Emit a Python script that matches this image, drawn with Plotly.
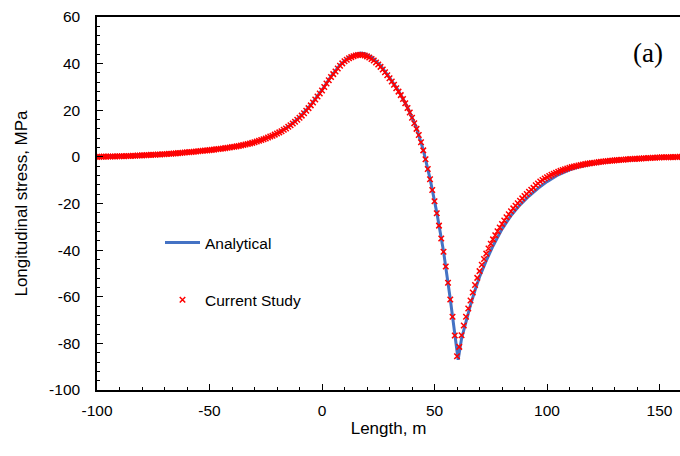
import plotly.graph_objects as go

# Analytical solution
x_analytical = [-100, -90, -80, -70, -60, -50, -40, -30, -25, -20, -15, -10, -5, 0, 4, 8, 12, 15, 17, 19,
                22, 26, 30, 34, 38, 42, 45, 48, 51, 54, 57, 59, 60.5, 62, 64, 66, 68, 70, 73, 76,
                80, 84, 88, 92, 96, 100, 105, 110, 115, 120, 130, 140, 150, 160]
y_analytical = [0, 0.25, 0.65, 1.15, 2.0, 2.9, 4.2, 6.3, 7.9, 10.0, 12.9, 16.9, 22.2, 28.7, 34.5, 39.4, 42.7, 44.0, 44.5, 44.3,
                42.8, 39.2, 34.0, 28.3, 21.3, 12.4, 3.0, -9.3, -23.8, -40.5, -61.0, -76.6, -87.0, -78.0, -70.5, -63.5, -57.2, -51.5, -44.5, -38.2,
                -31.0, -25.2, -20.6, -16.8, -13.5, -10.6, -7.7, -5.6, -4.1, -3.1, -1.8, -1.0, -0.5, -0.2]

# Current study: one value per metre from -100 to 160
x_study = list(range(-100, 161))
y_study = [
    0.0, 0.0, 0.05, 0.1, 0.1, 0.15, 0.15, 0.2, 0.2, 0.25,            # -100..-91
    0.25, 0.3, 0.3, 0.35, 0.4, 0.4, 0.45, 0.5, 0.55, 0.6,             # -90..-81
    0.65, 0.7, 0.75, 0.8, 0.85, 0.9, 0.95, 1.0, 1.05, 1.1,            # -80..-71
    1.15, 1.2, 1.3, 1.35, 1.45, 1.5, 1.6, 1.7, 1.8, 1.9,              # -70..-61
    2.0, 2.05, 2.1, 2.2, 2.3, 2.4, 2.5, 2.6, 2.7, 2.8,                # -60..-51
    2.9, 3.0, 3.1, 3.25, 3.35, 3.5, 3.6, 3.75, 3.9, 4.05,             # -50..-41
    4.2, 4.35, 4.5, 4.7, 4.9, 5.1, 5.3, 5.5, 5.75, 6.0,               # -40..-31
    6.3, 6.6, 6.9, 7.2, 7.55, 7.9, 8.3, 8.7, 9.1, 9.55,               # -30..-21
    10.0, 10.5, 11.0, 11.6, 12.2, 12.9, 13.6, 14.3, 15.1, 15.9,       # -20..-11
    16.8, 17.7, 18.7, 19.8, 20.9, 22.1, 23.3, 24.6, 25.9, 27.2,       # -10..-1
    28.5, 30.0, 31.5, 32.9, 34.3, 35.5, 36.6, 37.9, 39.1, 40.1,       # 0..9
    41.0, 41.7, 42.3, 42.8, 43.2, 43.5, 43.7, 43.8, 43.7, 43.5,       # 10..19
    43.1, 42.6, 42.0, 41.3, 40.5, 39.6, 38.6, 37.5, 36.3, 35.0,       # 20..29
    33.7, 32.3, 30.9, 29.4, 28.0, 26.5, 24.8, 23.0, 21.0, 19.0,       # 30..39
    16.8, 14.4, 12.0, 9.4, 6.3, 2.8, -1.0, -5.2, -9.6, -14.2,         # 40..49
    -19.0, -24.2, -29.5, -35.0, -40.7, -47.0, -54.0, -61.2, -68.6, -76.6,  # 50..59
    -85.5, -81.5, -76.5, -72.3, -68.6, -65.0, -61.6, -58.2, -55.0, -51.9,  # 60..69
    -49.0, -46.3, -43.8, -41.5, -39.3, -37.3, -35.4, -33.6, -31.9, -30.3,  # 70..79
    -28.8, -27.3, -25.9, -24.6, -23.3, -22.1, -21.0, -19.9, -18.8, -17.8,  # 80..89
    -16.8, -15.9, -15.0, -14.1, -13.3, -12.2, -11.4, -10.6, -9.9, -9.3,    # 90..99
    -8.7, -8.2, -7.7, -7.2, -6.8, -6.4, -6.0, -5.6, -5.3, -5.0,            # 100..109
    -4.7, -4.4, -4.1, -3.9, -3.7, -3.5, -3.3, -3.1, -2.9, -2.8,            # 110..119
    -2.6, -2.5, -2.4, -2.2, -2.1, -2.0, -1.9, -1.8, -1.7, -1.6,            # 120..129
    -1.5, -1.4, -1.3, -1.25, -1.2, -1.1, -1.0, -0.95, -0.9, -0.85,         # 130..139
    -0.8, -0.75, -0.7, -0.6, -0.55, -0.5, -0.45, -0.4, -0.35, -0.3,        # 140..149
    -0.25, -0.2, -0.2, -0.15, -0.15, -0.1, -0.1, -0.05, -0.05, 0.0,        # 150..159
    0.0,                                                                    # 160
]

x_ticks = [-100, -50, 0, 50, 100, 150]
y_ticks = [-100, -80, -60, -40, -20, 0, 20, 40, 60]

FONT = "Liberation Sans, Arial, sans-serif"

fig = go.Figure()
fig.add_trace(go.Scatter(
    x=x_analytical, y=y_analytical, mode="lines", name="Analytical",
    line=dict(color="#4472C4", width=3), legendgroup="a",
))
fig.add_trace(go.Scatter(
    x=x_study, y=y_study, mode="markers", name="Current Study",
    marker=dict(symbol="x-thin", size=5.5, color="#FF0000",
                line=dict(color="#FF0000", width=1.5)),
    legendgroup="b",
))

L, R, T, B = 97, 0, 17, 66
pw, ph = 680 - L - R, 456 - T - B

fig.update_layout(
    width=680, height=456,
    margin=dict(l=L, r=R, t=T, b=B),
    paper_bgcolor="white", plot_bgcolor="white",
    font=dict(family=FONT, size=15.5, color="#000000"),
    showlegend=True,
    legend=dict(x=(160 - L) / pw, y=1 - (226 - T) / ph, xanchor="left", yanchor="top",
                bgcolor="rgba(0,0,0,0)", font=dict(size=15.5, family=FONT),
                traceorder="grouped", tracegroupgap=34, itemwidth=35),
    annotations=[dict(text="(a)", x=(648 - L) / pw, y=1 - (53 - T) / ph,
                      xref="paper", yref="paper", xanchor="center", yanchor="middle",
                      showarrow=False,
                      font=dict(family="Liberation Serif, Times New Roman, serif", size=27))],
)

fig.update_xaxes(
    range=[-100, 159.1], tickvals=x_ticks, ticktext=[str(v) for v in x_ticks],
    showgrid=False, zeroline=False, showline=True, linecolor="black", linewidth=1.5,
    mirror=True, ticks="inside", ticklen=6, tickwidth=1.3, tickcolor="black",
    minor=dict(dtick=10, ticks="inside", ticklen=3, tickwidth=1.3, tickcolor="black", showgrid=False),
    ticklabelstandoff=6,
    tickfont=dict(size=15.5),
    title=dict(text="Length, m", font=dict(size=17, family=FONT), standoff=3),
)
fig.update_yaxes(
    range=[-100, 60], tickvals=y_ticks, ticktext=[str(v) for v in y_ticks],
    showgrid=False, zeroline=False, showline=True, linecolor="black", linewidth=1.5,
    ticks="inside", ticklen=6, tickwidth=1.3, tickcolor="black",
    minor=dict(dtick=4, ticks="inside", ticklen=3, tickwidth=1.3, tickcolor="black", showgrid=False),
    ticklabelstandoff=12,
    tickfont=dict(size=15.5),
    title=dict(text="Longitudinal stress, MPa", font=dict(size=17, family=FONT), standoff=17),
)

fig.write_html("out.html")
